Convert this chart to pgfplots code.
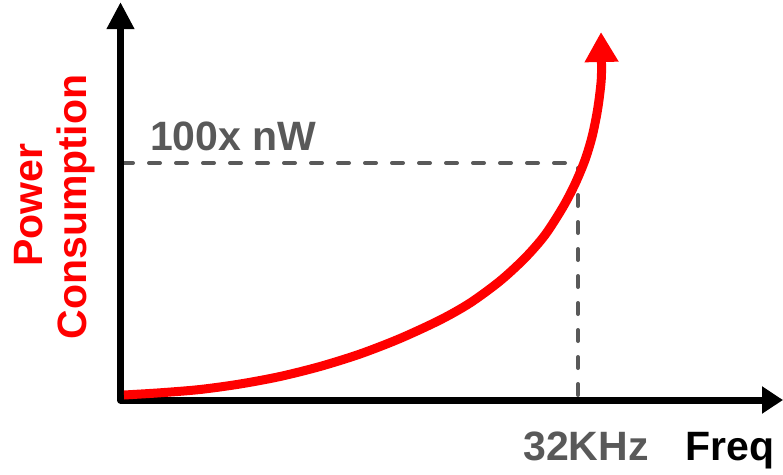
\documentclass[border=0pt]{standalone}
\usepackage{fontspec}
\setmainfont{Liberation Sans}
\usepackage{pgfplots}
\pgfplotsset{compat=1.18}
\usetikzlibrary{arrows.meta}
\definecolor{dgray}{HTML}{595959}
\definecolor{pred}{HTML}{FF0000}
\begin{document}
\begin{tikzpicture}
\begin{axis}[name=ax, at={(0,0)}, anchor=south west,
  scale only axis, width=783pt, height=474pt,
  xmin=0, xmax=783, ymin=0, ymax=474, y dir=reverse,
  hide axis, clip=false]
% dashed guide lines
\addplot[dgray, line width=4pt, line cap=round, dash pattern=on 11pt off 16pt] coordinates {(122,163) (578,163)};
\addplot[dgray, line width=4pt, line cap=round, dash pattern=on 11pt off 16pt] coordinates {(578,168) (578,398)};
% axes
\addplot[black, line width=7pt, line join=round,
  {Triangle[length=27pt,width=26pt]}-{Triangle[length=21pt,width=26pt]}]
  coordinates {(120.5,2) (120.5,400) (783,400)};
% curve
\addplot[pred, line width=9pt, smooth, line join=round,
  -{Triangle[length=30pt,width=32pt]}]
  coordinates {(124,395) (160,392.8) (200,389.5) (240,384) (280,376.5) (320,366.5) (360,354) (400,338.5) (440,320) (470,303) (500,281) (525,258) (545,235) (563,207) (575,184) (585,160) (592,137) (597,113) (600,92) (601.5,73) (601,32)};
% labels
\node[anchor=base west, text=dgray, font=\fontsize{41}{43}\selectfont\bfseries, inner sep=0pt] at (axis cs:150,150) {100x nW};
\node[anchor=base west, text=dgray, font=\fontsize{41}{43}\selectfont\bfseries, inner sep=0pt] at (axis cs:523,460) {32KHz};
\node[anchor=base west, text=black, font=\fontsize{41}{43}\selectfont\bfseries, inner sep=0pt] at (axis cs:685,460) {Freq};
\node[anchor=base, rotate=90, text=pred, font=\fontsize{41}{43}\selectfont\bfseries, inner sep=0pt] at (axis cs:43,205) {Power};
\node[anchor=base, rotate=90, text=pred, font=\fontsize{41}{43}\selectfont\bfseries, inner sep=0pt] at (axis cs:86,207) {Consumption};
\end{axis}
\pgfresetboundingbox
\path[use as bounding box] (ax.south west) rectangle (ax.north east);
\end{tikzpicture}
\end{document}
